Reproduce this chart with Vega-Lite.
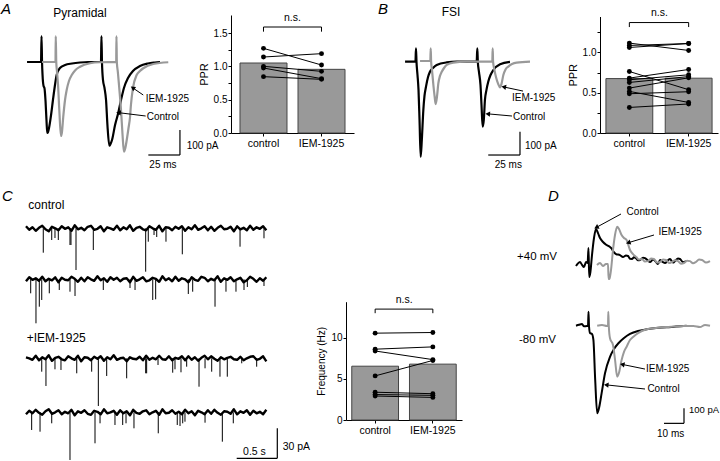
{
"$schema": "https://vega.github.io/schema/vega-lite/v6.json",
"padding": 0,
"spacing": 0,
"config": {
 "view": {"stroke": null},
 "font": "Liberation Sans",
 "axis": {"domainColor":"#000000","tickColor":"#000000","labelColor":"#000000","titleColor":"#000000","labelFontSize":10,"titleFontSize":11,"titleFontWeight":"normal","tickSize":3,"labelPadding":1,"titlePadding":4,"grid":false},
 "axisX": {"labelAngle":0,"labelFontSize":10.5,"labelPadding":2,"tickSize":3},
 "text": {"color":"#000000"}
},
"datasets": {
 "aT": [
  {"c":"k","t":21.3,"i":0},{"c":"k","t":32.3,"i":0},{"c":"k","t":32.7,"i":104},{"c":"k","t":33.1,"i":0},{"c":"k","t":33.5,"i":-52},{"c":"k","t":34.3,"i":-96},{"c":"k","t":35.0,"i":-104},{"c":"k","t":35.8,"i":-152},{"c":"k","t":36.6,"i":-232},{"c":"k","t":37.2,"i":-284},{"c":"k","t":37.8,"i":-280},{"c":"k","t":38.6,"i":-264},{"c":"k","t":40.2,"i":-212},{"c":"k","t":41.7,"i":-152},{"c":"k","t":43.3,"i":-92},{"c":"k","t":44.6,"i":-52},{"c":"k","t":47.2,"i":-24},{"c":"k","t":51.2,"i":-12},{"c":"k","t":56.7,"i":-6},{"c":"k","t":63.0,"i":-2},{"c":"k","t":69.3,"i":0},{"c":"k","t":79.5,"i":0},{"c":"k","t":79.9,"i":104},{"c":"k","t":80.3,"i":0},{"c":"k","t":81.1,"i":-72},{"c":"k","t":82.3,"i":-104},{"c":"k","t":83.5,"i":-152},{"c":"k","t":84.6,"i":-252},{"c":"k","t":86.1,"i":-335},{"c":"k","t":87.0,"i":-328},{"c":"k","t":88.2,"i":-312},{"c":"k","t":90.6,"i":-252},{"c":"k","t":93.1,"i":-204},{"c":"k","t":95.3,"i":-152},{"c":"k","t":97.6,"i":-104},{"c":"k","t":100.8,"i":-64},{"c":"k","t":104.7,"i":-36},{"c":"k","t":110.2,"i":-16},{"c":"k","t":116.5,"i":-6},{"c":"k","t":122,"i":-2},{"c":"k","t":126,"i":0},
  {"c":"g","t":33.1,"i":0},{"c":"g","t":43.7,"i":0},{"c":"g","t":43.9,"i":104},{"c":"g","t":44.3,"i":0},{"c":"g","t":44.9,"i":-40},{"c":"g","t":45.7,"i":-92},{"c":"g","t":46.7,"i":-192},{"c":"g","t":48.0,"i":-296},{"c":"g","t":48.8,"i":-280},{"c":"g","t":49.8,"i":-220},{"c":"g","t":51.2,"i":-152},{"c":"g","t":52.5,"i":-112},{"c":"g","t":54.3,"i":-76},{"c":"g","t":56.5,"i":-52},{"c":"g","t":59.1,"i":-34},{"c":"g","t":63.0,"i":-19},{"c":"g","t":70.9,"i":-5},{"c":"g","t":78.7,"i":-1},{"c":"g","t":91.5,"i":0},{"c":"g","t":91.7,"i":104},{"c":"g","t":92.0,"i":0},{"c":"g","t":92.8,"i":-40},{"c":"g","t":93.7,"i":-92},{"c":"g","t":95.3,"i":-192},{"c":"g","t":96.5,"i":-292},{"c":"g","t":97.6,"i":-359},{"c":"g","t":98.7,"i":-344},{"c":"g","t":99.8,"i":-312},{"c":"g","t":101.2,"i":-264},{"c":"g","t":102.4,"i":-220},{"c":"g","t":103.1,"i":-172},{"c":"g","t":104.7,"i":-104},{"c":"g","t":107.6,"i":-52},{"c":"g","t":110.2,"i":-36},{"c":"g","t":112.8,"i":-25},{"c":"g","t":120.7,"i":-8},{"c":"g","t":132.5,"i":-1}
 ],
 "aA": [{"t":112.8,"i":-132,"t2":105,"i2":-105,"ang":304},{"t":114.7,"i":-216,"t2":93.9,"i2":-203,"ang":277}],
 "aS": [{"t":116.8,"i":-372,"t2":141.7,"i2":-372},{"t":141.7,"i":-272,"t2":141.7,"i2":-372}],
 "aX": [{"k":"l","t":114.7,"i":-149,"label":"IEM-1925"},{"k":"l","t":115.5,"i":-221,"label":"Control"},{"k":"l","t":147,"i":-335,"label":"100 pA"},{"k":"c","t":128.3,"i":-412,"label":"25 ms"},{"k":"h","t":42,"i":195,"label":"Pyramidal"},{"k":"p","t":0.8,"i":212,"label":"A"}],
 "bT": [
  {"c":"k","t":40.2,"i":0},{"c":"k","t":48.4,"i":0},{"c":"k","t":48.8,"i":57},{"c":"k","t":49.2,"i":0},{"c":"k","t":50.0,"i":-57},{"c":"k","t":50.8,"i":-121},{"c":"k","t":51.6,"i":-250},{"c":"k","t":52.5,"i":-408},{"c":"k","t":53.4,"i":-336},{"c":"k","t":54.6,"i":-207},{"c":"k","t":55.5,"i":-147},{"c":"k","t":56.7,"i":-107},{"c":"k","t":58.3,"i":-66},{"c":"k","t":59.8,"i":-43},{"c":"k","t":62.2,"i":-27},{"c":"k","t":65.1,"i":-14},{"c":"k","t":73.0,"i":-3},{"c":"k","t":80.9,"i":0},{"c":"k","t":96.6,"i":0},{"c":"k","t":97.1,"i":57},{"c":"k","t":97.5,"i":0},{"c":"k","t":98.4,"i":-44},{"c":"k","t":99.6,"i":-100},{"c":"k","t":100.4,"i":-186},{"c":"k","t":101.3,"i":-279},{"c":"k","t":102.2,"i":-250},{"c":"k","t":103.1,"i":-164},{"c":"k","t":104.3,"i":-121},{"c":"k","t":105.7,"i":-86},{"c":"k","t":107.5,"i":-57},{"c":"k","t":109.7,"i":-36},{"c":"k","t":115,"i":-11},{"c":"k","t":122.8,"i":-1},
  {"c":"g","t":52.0,"i":3},{"c":"g","t":60.1,"i":3},{"c":"g","t":60.4,"i":57},{"c":"g","t":60.7,"i":3},{"c":"g","t":61.5,"i":-40},{"c":"g","t":62.5,"i":-100},{"c":"g","t":63.5,"i":-150},{"c":"g","t":64.3,"i":-182},{"c":"g","t":65.4,"i":-147},{"c":"g","t":66.4,"i":-93},{"c":"g","t":67.7,"i":-61},{"c":"g","t":69.1,"i":-43},{"c":"g","t":70.9,"i":-27},{"c":"g","t":73.0,"i":-14},{"c":"g","t":78.2,"i":-4},{"c":"g","t":88.7,"i":0},{"c":"g","t":108.9,"i":1},{"c":"g","t":109.2,"i":57},{"c":"g","t":109.5,"i":1},{"c":"g","t":110.6,"i":-36},{"c":"g","t":112,"i":-70},{"c":"g","t":113.5,"i":-95},{"c":"g","t":115,"i":-110},{"c":"g","t":116.1,"i":-96},{"c":"g","t":117.6,"i":-57},{"c":"g","t":119.3,"i":-33},{"c":"g","t":121.5,"i":-21},{"c":"g","t":124.4,"i":-10},{"c":"g","t":128.1,"i":-4},{"c":"g","t":138.6,"i":0}
 ],
 "bA": [{"t":133.1,"i":-126,"t2":118.5,"i2":-109,"ang":282},{"t":124.4,"i":-233,"t2":105.9,"i2":-224,"ang":275}],
 "bS": [{"t":105.7,"i":-400.3,"t2":130.7,"i2":-400.3},{"t":130.7,"i":-300.3,"t2":130.7,"i2":-400.3}],
 "bX": [{"k":"l","t":124.4,"i":-156,"label":"IEM-1925"},{"k":"l","t":125.2,"i":-238,"label":"Control"},{"k":"l","t":134.6,"i":-360,"label":"100 pA"},{"k":"c","t":121.5,"i":-443,"label":"25 ms"},{"k":"h","t":69,"i":213,"label":"FSI"},{"k":"p","t":18.9,"i":224,"label":"B"}],
 "cN": [
  {"t":320,"a":2,"b":-53,"c":-129,"d":-186},{"t":360,"a":-1.5,"b":-49,"c":-130,"d":-182.5},{"t":400,"a":1,"b":-51.5,"c":-131.5,"d":-185},{"t":440,"a":-2.5,"b":-50,"c":-127.5,"d":-181.5},{"t":480,"a":0.5,"b":-52.5,"c":-132,"d":-184.5},{"t":520,"a":2.5,"b":-48.5,"c":-129,"d":-186.5},{"t":560,"a":-1,"b":-53,"c":-131,"d":-183},{"t":600,"a":-3,"b":-50.5,"c":-127,"d":-181},{"t":640,"a":1.5,"b":-52,"c":-132.5,"d":-185.5},{"t":680,"a":0,"b":-49,"c":-129.5,"d":-184},
  {"t":720,"a":-2,"b":-54,"c":-128.5,"d":-182},{"t":760,"a":2,"b":-49.5,"c":-131,"d":-186},{"t":800,"a":-0.5,"b":-51.5,"c":-132,"d":-183.5},{"t":840,"a":1,"b":-52,"c":-128,"d":-185},{"t":880,"a":-2.5,"b":-48.5,"c":-130,"d":-181.5},{"t":920,"a":3,"b":-50.5,"c":-131.5,"d":-187},{"t":960,"a":-1,"b":-53.5,"c":-127.5,"d":-183},{"t":1000,"a":0.5,"b":-49.5,"c":-133,"d":-184.5},{"t":1040,"a":-2,"b":-53,"c":-129,"d":-182},{"t":1080,"a":1.5,"b":-49,"c":-129.5,"d":-185.5},
  {"t":1120,"a":2.5,"b":-51,"c":-132,"d":-186.5},{"t":1160,"a":-1.5,"b":-52.5,"c":-128.5,"d":-182.5},{"t":1200,"a":-0.5,"b":-48,"c":-130.5,"d":-183.5},{"t":1240,"a":2,"b":-52,"c":-128,"d":-186},{"t":1280,"a":-3,"b":-50,"c":-132.5,"d":-181},{"t":1320,"a":1,"b":-53.5,"c":-129,"d":-185},{"t":1360,"a":0,"b":-49,"c":-131,"d":-184},{"t":1400,"a":-1.5,"b":-51.5,"c":-127,"d":-182.5},{"t":1440,"a":2.5,"b":-49.5,"c":-131.5,"d":-186.5},{"t":1480,"a":-2,"b":-53,"c":-130,"d":-182},
  {"t":1520,"a":1,"b":-50.5,"c":-129.5,"d":-185},{"t":1560,"a":-1,"b":-50,"c":-133,"d":-183},{"t":1600,"a":3,"b":-54,"c":-129,"d":-187},{"t":1640,"a":-2.5,"b":-48.5,"c":-130.5,"d":-181.5},{"t":1680,"a":0.5,"b":-52.5,"c":-131,"d":-184.5},{"t":1720,"a":1.5,"b":-51,"c":-128.5,"d":-185.5},{"t":1760,"a":-1,"b":-49,"c":-132,"d":-183},{"t":1800,"a":-2,"b":-53,"c":-127.5,"d":-182},{"t":1840,"a":2,"b":-52,"c":-131.5,"d":-186},{"t":1880,"a":0,"b":-49.5,"c":-129.5,"d":-184},
  {"t":1920,"a":-1.5,"b":-50.5,"c":-131,"d":-182.5},{"t":1960,"a":2.5,"b":-53.5,"c":-127.5,"d":-186.5},{"t":2000,"a":-3,"b":-48,"c":-131,"d":-181},{"t":2040,"a":1,"b":-52,"c":-131.5,"d":-185},{"t":2080,"a":0.5,"b":-50,"c":-128,"d":-184.5},{"t":2120,"a":-2,"b":-53,"c":-132,"d":-182},{"t":2160,"a":1.5,"b":-48.5,"c":-129.5,"d":-185.5},{"t":2200,"a":-0.5,"b":-52.5,"c":-130.5,"d":-183.5},{"t":2240,"a":2,"b":-50,"c":-128,"d":-186},{"t":2280,"a":-2.5,"b":-51,"c":-132,"d":-181.5},
  {"t":2320,"a":1,"b":-54,"c":-128,"d":-185},{"t":2360,"a":-1,"b":-49,"c":-131.5,"d":-183},{"t":2400,"a":3,"b":-51.5,"c":-129,"d":-187},{"t":2440,"a":-1.5,"b":-52.5,"c":-132.5,"d":-182.5},{"t":2480,"a":0,"b":-48.5,"c":-129.5,"d":-184},{"t":2520,"a":2,"b":-49.5,"c":-127.5,"d":-186},{"t":2560,"a":-2,"b":-53,"c":-131,"d":-182},{"t":2600,"a":1.5,"b":-50.5,"c":-128,"d":-185.5},{"t":2640,"a":-2.5,"b":-52,"c":-130.5,"d":-181.5},{"t":2680,"a":0.5,"b":-48,"c":-132.5,"d":-184.5},
  {"t":2720,"a":2.5,"b":-53.5,"c":-129,"d":-186.5},{"t":2760,"a":-1,"b":-50,"c":-131,"d":-183},{"t":2800,"a":-0.5,"b":-51.5,"c":-129.5,"d":-183.5},{"t":2840,"a":1.5,"b":-49,"c":-128.5,"d":-185.5},{"t":2880,"a":-3,"b":-53,"c":-131,"d":-181},{"t":2920,"a":2,"b":-51,"c":-131.5,"d":-186},{"t":2960,"a":-1,"b":-49.5,"c":-128.5,"d":-183},{"t":3000,"a":0.5,"b":-54,"c":-132,"d":-184.5},{"t":3040,"a":-2,"b":-52,"c":-130,"d":-182},{"t":3080,"a":2.5,"b":-48.5,"c":-128.5,"d":-186.5},
  {"t":3120,"a":-1.5,"b":-50.5,"c":-128,"d":-182.5},{"t":3160,"a":1,"b":-53.5,"c":-131.5,"d":-185},{"t":3200,"a":-0.5,"b":-50,"c":-130.5,"d":-183.5},{"t":3240,"a":2,"b":-52.5,"c":-128,"d":-186},{"t":3280,"a":-2,"b":-49,"c":-133,"d":-181.5}
 ],
 "cSp": [
  {"t":533,"b":0,"p":-24.4},{"t":637,"b":0,"p":-11.7},{"t":677,"b":0,"p":-9.7},{"t":718,"b":0,"p":-11.7},{"t":862,"b":0,"p":-16.7},{"t":874,"b":0,"p":-16.7},{"t":936,"b":0,"p":-41.7},{"t":1149,"b":0,"p":-21.7},{"t":1794,"b":0,"p":-43.4},{"t":1826,"b":0,"p":-13.4},{"t":1897,"b":0,"p":-6.7},{"t":1930,"b":0,"p":-8.7},{"t":2044,"b":0,"p":-13.4},{"t":2245,"b":0,"p":-26},{"t":2956,"b":0,"p":-18.4},{"t":3251,"b":0,"p":-10},
  {"t":378,"b":-51,"p":-65},{"t":443,"b":-51,"p":-95},{"t":484,"b":-51,"p":-78.4},{"t":514,"b":-51,"p":-71.7},{"t":607,"b":-51,"p":-65},{"t":730,"b":-51,"p":-61.7},{"t":862,"b":-51,"p":-63.4},{"t":924,"b":-51,"p":-67.7},{"t":1272,"b":-51,"p":-61.7},{"t":1601,"b":-51,"p":-59.7},{"t":1663,"b":-51,"p":-61.7},{"t":1881,"b":-51,"p":-71.7},{"t":1917,"b":-51,"p":-71},{"t":2319,"b":-51,"p":-65.7},{"t":2373,"b":-51,"p":-63.4},{"t":2648,"b":-51,"p":-78.4},{"t":2783,"b":-51,"p":-63.4},{"t":2906,"b":-51,"p":-63.4},{"t":3005,"b":-51,"p":-61.7},{"t":3046,"b":-51,"p":-58.7},{"t":3251,"b":-51,"p":-57.7},
  {"t":514,"b":-130,"p":-143.4},{"t":566,"b":-130,"p":-157.7},{"t":677,"b":-130,"p":-141},{"t":751,"b":-130,"p":-141.7},{"t":945,"b":-130,"p":-145},{"t":1129,"b":-130,"p":-143.4},{"t":1211,"b":-130,"p":-177.7},{"t":1314,"b":-130,"p":-147.7},{"t":1560,"b":-130,"p":-150},{"t":1794,"b":-130,"p":-145},{"t":1806,"b":-130,"p":-145},{"t":1946,"b":-130,"p":-136.7},{"t":2127,"b":-130,"p":-144.4},{"t":2155,"b":-130,"p":-141},{"t":2229,"b":-130,"p":-144},{"t":2299,"b":-130,"p":-138.4},{"t":2451,"b":-130,"p":-158.4},{"t":2525,"b":-130,"p":-140},{"t":2607,"b":-130,"p":-143.4},{"t":2709,"b":-130,"p":-148.4},{"t":2799,"b":-130,"p":-148.4},{"t":2977,"b":-130,"p":-135},{"t":3161,"b":-130,"p":-138.4},
  {"t":390,"b":-184,"p":-201.7},{"t":493,"b":-184,"p":-203.4},{"t":637,"b":-184,"p":-195},{"t":862,"b":-184,"p":-231.7},{"t":1170,"b":-184,"p":-215},{"t":1232,"b":-184,"p":-195},{"t":1416,"b":-184,"p":-196.7},{"t":1511,"b":-184,"p":-196.7},{"t":1552,"b":-184,"p":-195},{"t":1650,"b":-184,"p":-200},{"t":1949,"b":-184,"p":-205},{"t":2183,"b":-184,"p":-196.7},{"t":2217,"b":-184,"p":-197.7},{"t":2250,"b":-184,"p":-195},{"t":2278,"b":-184,"p":-193.4},{"t":2525,"b":-184,"p":-194.4},{"t":2738,"b":-184,"p":-213.4},{"t":2873,"b":-184,"p":-195}
 ],
 "cS": [{"t":2915,"i":-230,"t2":3415,"i2":-230},{"t":3415,"i":-200,"t2":3415,"i2":-230}],
 "cX": [{"k":"h","t":349,"i":23.3,"label":"control"},{"k":"h","t":329,"i":-110,"label":"+IEM-1925"},{"k":"c","t":3134,"i":-223.7,"label":"0.5 s"},{"k":"l","t":3481,"i":-218.4,"label":"30 pA"},{"k":"p","t":25,"i":32.3,"label":"C"}],
 "dT": [
  {"c":"k","s":"u","t":57,"i":-18},{"c":"k","s":"u","t":58,"i":0},{"c":"k","s":"u","t":59,"i":9},{"c":"k","s":"u","t":60,"i":-10},{"c":"k","s":"u","t":61,"i":-25},{"c":"k","s":"u","t":62,"i":9},{"c":"k","s":"u","t":62.8,"i":2},{"c":"k","s":"u","t":63.25,"i":102},{"c":"k","s":"u","t":63.6,"i":-91},{"c":"k","s":"u","t":64.2,"i":-58},{"c":"k","s":"u","t":65,"i":55},{"c":"k","s":"u","t":66,"i":169},{"c":"k","s":"u","t":67,"i":229},{"c":"k","s":"u","t":68,"i":202},{"c":"k","s":"u","t":69,"i":169},{"c":"k","s":"u","t":70.5,"i":142},{"c":"k","s":"u","t":72.3,"i":122},{"c":"k","s":"u","t":74,"i":109},{"c":"k","s":"u","t":74.8,"i":100},{"c":"k","s":"u","t":75.5,"i":82},{"c":"k","s":"u","t":77,"i":62},{"c":"k","s":"u","t":79,"i":55},{"c":"k","s":"u","t":80.5,"i":42},{"c":"k","s":"u","t":82,"i":52},{"c":"k","s":"u","t":83,"i":49},{"c":"k","s":"u","t":84,"i":30},{"c":"k","s":"u","t":85,"i":29},{"c":"k","s":"u","t":86,"i":40},{"c":"k","s":"u","t":87,"i":35},{"c":"k","s":"u","t":88,"i":20},{"c":"k","s":"u","t":89,"i":22},{"c":"k","s":"u","t":90.5,"i":38},{"c":"k","s":"u","t":91.5,"i":35},{"c":"k","s":"u","t":93,"i":18},{"c":"k","s":"u","t":94,"i":9},{"c":"k","s":"u","t":95.5,"i":25},{"c":"k","s":"u","t":97,"i":9},{"c":"k","s":"u","t":98,"i":-5},{"c":"k","s":"u","t":99,"i":22},{"c":"k","s":"u","t":100.5,"i":8},{"c":"k","s":"u","t":101.5,"i":2},{"c":"k","s":"u","t":103,"i":20},{"c":"k","s":"u","t":104,"i":29},{"c":"k","s":"u","t":105.5,"i":5},{"c":"k","s":"u","t":106.5,"i":15},{"c":"k","s":"u","t":108,"i":32},{"c":"k","s":"u","t":109,"i":29},{"c":"k","s":"u","t":110.5,"i":8},{"c":"k","s":"u","t":112,"i":15},
  {"c":"g","s":"u","t":67.5,"i":-11},{"c":"g","s":"u","t":69,"i":2},{"c":"g","s":"u","t":70.5,"i":-18},{"c":"g","s":"u","t":72,"i":-5},{"c":"g","s":"u","t":73,"i":-5},{"c":"g","s":"u","t":73.3,"i":-105},{"c":"g","s":"u","t":73.8,"i":-100},{"c":"g","s":"u","t":74.5,"i":-45},{"c":"g","s":"u","t":75.5,"i":89},{"c":"g","s":"u","t":76.5,"i":189},{"c":"g","s":"u","t":77.6,"i":244},{"c":"g","s":"u","t":78.5,"i":229},{"c":"g","s":"u","t":79.8,"i":189},{"c":"g","s":"u","t":81,"i":169},{"c":"g","s":"u","t":82.3,"i":155},{"c":"g","s":"u","t":83,"i":129},{"c":"g","s":"u","t":84,"i":89},{"c":"g","s":"u","t":85.5,"i":62},{"c":"g","s":"u","t":87.3,"i":40},{"c":"g","s":"u","t":88.5,"i":25},{"c":"g","s":"u","t":90,"i":29},{"c":"g","s":"u","t":91.5,"i":12},{"c":"g","s":"u","t":93,"i":15},{"c":"g","s":"u","t":94.5,"i":32},{"c":"g","s":"u","t":96,"i":29},{"c":"g","s":"u","t":97.5,"i":5},{"c":"g","s":"u","t":99,"i":9},{"c":"g","s":"u","t":100.5,"i":25},{"c":"g","s":"u","t":102,"i":22},{"c":"g","s":"u","t":103.5,"i":2},{"c":"g","s":"u","t":105,"i":9},{"c":"g","s":"u","t":106.5,"i":20},{"c":"g","s":"u","t":108,"i":15},{"c":"g","s":"u","t":109.5,"i":-2},{"c":"g","s":"u","t":111,"i":2},{"c":"g","s":"u","t":112.5,"i":18},{"c":"g","s":"u","t":114,"i":15},{"c":"g","s":"u","t":115.5,"i":0},{"c":"g","s":"u","t":117,"i":9},{"c":"g","s":"u","t":118.5,"i":25},{"c":"g","s":"u","t":120,"i":22},{"c":"g","s":"u","t":122,"i":5},{"c":"g","s":"u","t":124,"i":15},
  {"c":"k","s":"d","t":57,"i":-416},{"c":"k","s":"d","t":58.5,"i":-410},{"c":"k","s":"d","t":60,"i":-405},{"c":"k","s":"d","t":61,"i":-420},{"c":"k","s":"d","t":62.5,"i":-418},{"c":"k","s":"d","t":63,"i":-418},{"c":"k","s":"d","t":63.25,"i":-323},{"c":"k","s":"d","t":63.5,"i":-418},{"c":"k","s":"d","t":64,"i":-465},{"c":"k","s":"d","t":65,"i":-471},{"c":"k","s":"d","t":65.7,"i":-511},{"c":"k","s":"d","t":66.6,"i":-778},{"c":"k","s":"d","t":67.6,"i":-1000},{"c":"k","s":"d","t":68.5,"i":-965},{"c":"k","s":"d","t":69.8,"i":-867},{"c":"k","s":"d","t":71.5,"i":-733},{"c":"k","s":"d","t":74,"i":-623},{"c":"k","s":"d","t":76,"i":-571},{"c":"k","s":"d","t":78.2,"i":-533},{"c":"k","s":"d","t":81,"i":-498},{"c":"k","s":"d","t":84,"i":-471},{"c":"k","s":"d","t":88,"i":-451},{"c":"k","s":"d","t":92.3,"i":-440},{"c":"k","s":"d","t":97,"i":-431},{"c":"k","s":"d","t":102.3,"i":-427},{"c":"k","s":"d","t":107,"i":-421},{"c":"k","s":"d","t":112.3,"i":-416},
  {"c":"g","s":"d","t":67.6,"i":-416},{"c":"g","s":"d","t":70,"i":-411},{"c":"g","s":"d","t":72.5,"i":-418},{"c":"g","s":"d","t":73,"i":-418},{"c":"g","s":"d","t":73.15,"i":-323},{"c":"g","s":"d","t":73.4,"i":-418},{"c":"g","s":"d","t":74,"i":-500},{"c":"g","s":"d","t":75.5,"i":-545},{"c":"g","s":"d","t":76.5,"i":-640},{"c":"g","s":"d","t":77.6,"i":-756},{"c":"g","s":"d","t":78.5,"i":-730},{"c":"g","s":"d","t":79.8,"i":-645},{"c":"g","s":"d","t":81,"i":-590},{"c":"g","s":"d","t":82.3,"i":-556},{"c":"g","s":"d","t":84,"i":-511},{"c":"g","s":"d","t":85.7,"i":-489},{"c":"g","s":"d","t":88,"i":-465},{"c":"g","s":"d","t":92.3,"i":-440},{"c":"g","s":"d","t":97,"i":-431},{"c":"g","s":"d","t":102,"i":-425},{"c":"g","s":"d","t":105.7,"i":-422},{"c":"g","s":"d","t":111,"i":-418},{"c":"g","s":"d","t":115.7,"i":-418},{"c":"g","s":"d","t":119,"i":-425},{"c":"g","s":"d","t":121.5,"i":-411},{"c":"g","s":"d","t":124,"i":-416}
 ],
 "dA": [{"t":79.5,"i":329,"t2":67.5,"i2":242,"ang":242},{"t":96,"i":189,"t2":83.5,"i2":139,"ang":253},{"t":91.5,"i":-705,"t2":80.5,"i2":-675,"ang":282},{"t":91.5,"i":-838,"t2":72.5,"i2":-811,"ang":276}],
 "dS": [{"t":101,"i":-1067,"t2":111,"i2":-1067},{"t":111,"i":-967,"t2":111,"i2":-1067}],
 "dX": [{"k":"l","t":82.3,"i":344,"label":"Control"},{"k":"l","t":98.2,"i":211,"label":"IEM-1925"},{"k":"l","t":92,"i":-707,"label":"IEM-1925"},{"k":"l","t":92.7,"i":-840,"label":"Control"},{"k":"s","t":113.5,"i":-978,"label":"100 pA"},{"k":"c","t":104.3,"i":-1138,"label":"10 ms"},{"k":"r","t":47.5,"i":42,"label":"+40 mV"},{"k":"r","t":47,"i":-511,"label":"-80 mV"},{"k":"p","t":43,"i":449,"label":"D"}],
 "aBar": [{"cond":"control","v":1.05},{"cond":"IEM-1925","v":0.955}],
 "aPts": [{"id":1,"cond":"control","v":1.27},{"id":1,"cond":"IEM-1925","v":1.02},{"id":2,"cond":"control","v":1.14},{"id":2,"cond":"IEM-1925","v":1.19},{"id":3,"cond":"control","v":1.0},{"id":3,"cond":"IEM-1925","v":0.925},{"id":4,"cond":"control","v":0.975},{"id":4,"cond":"IEM-1925","v":0.815},{"id":5,"cond":"control","v":0.845},{"id":5,"cond":"IEM-1925","v":0.805}],
 "aBr": [{"o":1,"cond":"control","v":1.52},{"o":2,"cond":"control","v":1.59},{"o":3,"cond":"IEM-1925","v":1.59},{"o":4,"cond":"IEM-1925","v":1.52}],
 "aNs": [{"cond":"control","v":1.72,"label":"n.s."}],
 "bBar": [{"cond":"control","v":0.675},{"cond":"IEM-1925","v":0.68}],
 "bPts": [{"id":1,"cond":"control","v":1.115},{"id":1,"cond":"IEM-1925","v":1.024},{"id":2,"cond":"control","v":1.086},{"id":2,"cond":"IEM-1925","v":1.11},{"id":3,"cond":"control","v":1.061},{"id":3,"cond":"IEM-1925","v":1.11},{"id":4,"cond":"control","v":0.763},{"id":4,"cond":"IEM-1925","v":0.537},{"id":5,"cond":"control","v":0.681},{"id":5,"cond":"IEM-1925","v":0.788},{"id":6,"cond":"control","v":0.66},{"id":6,"cond":"IEM-1925","v":0.722},{"id":7,"cond":"control","v":0.627},{"id":7,"cond":"IEM-1925","v":0.70},{"id":8,"cond":"control","v":0.557},{"id":8,"cond":"IEM-1925","v":0.685},{"id":9,"cond":"control","v":0.516},{"id":9,"cond":"IEM-1925","v":0.379},{"id":10,"cond":"control","v":0.487},{"id":10,"cond":"IEM-1925","v":0.512},{"id":11,"cond":"control","v":0.317},{"id":11,"cond":"IEM-1925","v":0.36}],
 "bBr": [{"o":1,"cond":"control","v":1.314},{"o":2,"cond":"control","v":1.37},{"o":3,"cond":"IEM-1925","v":1.37},{"o":4,"cond":"IEM-1925","v":1.314}],
 "bNs": [{"cond":"control","v":1.49,"label":"n.s."}],
 "cBar": [{"cond":"control","v":6.55},{"cond":"IEM-1925","v":6.8}],
 "cPts": [{"id":1,"cond":"control","v":10.57},{"id":1,"cond":"IEM-1925","v":10.65},{"id":2,"cond":"control","v":8.62},{"id":2,"cond":"IEM-1925","v":8.9},{"id":3,"cond":"control","v":8.4},{"id":3,"cond":"IEM-1925","v":7.35},{"id":4,"cond":"control","v":5.37},{"id":4,"cond":"IEM-1925","v":7.25},{"id":5,"cond":"control","v":3.38},{"id":5,"cond":"IEM-1925","v":3.2},{"id":6,"cond":"control","v":3.1},{"id":6,"cond":"IEM-1925","v":3.0},{"id":7,"cond":"control","v":2.92},{"id":7,"cond":"IEM-1925","v":2.75}],
 "cBr": [{"o":1,"cond":"control","v":13.0},{"o":2,"cond":"control","v":13.5},{"o":3,"cond":"IEM-1925","v":13.5},{"o":4,"cond":"IEM-1925","v":13.0}],
 "cNs": [{"cond":"control","v":14.6,"label":"n.s."}]
},
"vconcat": [
 {"bounds":"flush","spacing":0,"hconcat":[
  {"width":231,"height":187,
   "encoding":{"x":{"field":"t","type":"quantitative","scale":{"domain":[0,181.9],"nice":false,"zero":false},"axis":null},
               "y":{"field":"i","type":"quantitative","scale":{"domain":[-500,248],"nice":false,"zero":false},"axis":null}},
   "layer":[
    {"data":{"name":"aT"},"transform":[{"filter":"datum.c==='k'"}],"mark":{"type":"line","color":"#000000","strokeWidth":2.2,"interpolate":"monotone","strokeJoin":"round"}},
    {"data":{"name":"aT"},"transform":[{"filter":"datum.c==='g'"}],"mark":{"type":"line","color":"#999999","strokeWidth":2.2,"interpolate":"monotone","strokeJoin":"round"}},
    {"data":{"name":"aA"},"mark":{"type":"rule","color":"#000000","strokeWidth":1},"encoding":{"x2":{"field":"t2"},"y2":{"field":"i2"}}},
    {"data":{"name":"aA"},"mark":{"type":"point","shape":"triangle","filled":true,"color":"#000000","size":28,"opacity":1},"encoding":{"x":{"field":"t2","type":"quantitative"},"y":{"field":"i2","type":"quantitative"},"angle":{"field":"ang","type":"quantitative","scale":null}}},
    {"data":{"name":"aS"},"mark":{"type":"rule","color":"#000000","strokeWidth":1.2},"encoding":{"x2":{"field":"t2"},"y2":{"field":"i2"}}},
    {"data":{"name":"aX"},"transform":[{"filter":"datum.k==='l'"}],"mark":{"type":"text","align":"left","baseline":"middle","fontSize":10},"encoding":{"text":{"field":"label","type":"nominal"}}},
    {"data":{"name":"aX"},"transform":[{"filter":"datum.k==='c'"}],"mark":{"type":"text","align":"center","baseline":"middle","fontSize":10},"encoding":{"text":{"field":"label","type":"nominal"}}},
    {"data":{"name":"aX"},"transform":[{"filter":"datum.k==='h'"}],"mark":{"type":"text","align":"left","baseline":"middle","fontSize":12},"encoding":{"text":{"field":"label","type":"nominal"}}},
    {"data":{"name":"aX"},"transform":[{"filter":"datum.k==='p'"}],"mark":{"type":"text","align":"left","baseline":"middle","fontSize":15,"fontStyle":"italic"},"encoding":{"text":{"field":"label","type":"nominal"}}}
   ]},
  {"width":123,"height":133,
   "encoding":{"x":{"field":"cond","type":"nominal","sort":["control","IEM-1925"],"scale":{"paddingInner":0.19,"paddingOuter":0.155},"axis":{"title":null}},
               "y":{"field":"v","type":"quantitative","scale":{"domain":[0,1.77],"range":[133,15],"nice":false},"axis":{"title":"PPR","values":[0,0.25,0.5,0.75,1,1.25,1.5],"labelExpr":"datum.value % 0.5 === 0 ? format(datum.value, '.1f') : ''"}}},
   "layer":[
    {"data":{"name":"aBar"},"mark":{"type":"bar","fill":"#999999","stroke":"#444444","strokeWidth":1}},
    {"data":{"name":"aPts"},"mark":{"type":"line","color":"#000000","strokeWidth":1},"encoding":{"detail":{"field":"id","type":"nominal"}}},
    {"data":{"name":"aPts"},"mark":{"type":"point","filled":true,"color":"#000000","size":24,"opacity":1}},
    {"data":{"name":"aBr"},"mark":{"type":"line","color":"#000000","strokeWidth":1},"encoding":{"order":{"field":"o","type":"quantitative"}}},
    {"data":{"name":"aNs"},"mark":{"type":"text","dx":29,"baseline":"middle","fontSize":10.5},"encoding":{"text":{"field":"label","type":"nominal"}}}
   ]},
  {"width":246,"height":187,
   "encoding":{"x":{"field":"t","type":"quantitative","scale":{"domain":[0,193.7],"nice":false,"zero":false},"axis":null},
               "y":{"field":"i","type":"quantitative","scale":{"domain":[-537.5,264.7],"nice":false,"zero":false},"axis":null}},
   "layer":[
    {"data":{"name":"bT"},"transform":[{"filter":"datum.c==='k'"}],"mark":{"type":"line","color":"#000000","strokeWidth":2.2,"interpolate":"monotone","strokeJoin":"round"}},
    {"data":{"name":"bT"},"transform":[{"filter":"datum.c==='g'"}],"mark":{"type":"line","color":"#999999","strokeWidth":2.2,"interpolate":"monotone","strokeJoin":"round"}},
    {"data":{"name":"bA"},"mark":{"type":"rule","color":"#000000","strokeWidth":1},"encoding":{"x2":{"field":"t2"},"y2":{"field":"i2"}}},
    {"data":{"name":"bA"},"mark":{"type":"point","shape":"triangle","filled":true,"color":"#000000","size":28,"opacity":1},"encoding":{"x":{"field":"t2","type":"quantitative"},"y":{"field":"i2","type":"quantitative"},"angle":{"field":"ang","type":"quantitative","scale":null}}},
    {"data":{"name":"bS"},"mark":{"type":"rule","color":"#000000","strokeWidth":1.2},"encoding":{"x2":{"field":"t2"},"y2":{"field":"i2"}}},
    {"data":{"name":"bX"},"transform":[{"filter":"datum.k==='l'"}],"mark":{"type":"text","align":"left","baseline":"middle","fontSize":10},"encoding":{"text":{"field":"label","type":"nominal"}}},
    {"data":{"name":"bX"},"transform":[{"filter":"datum.k==='c'"}],"mark":{"type":"text","align":"center","baseline":"middle","fontSize":10},"encoding":{"text":{"field":"label","type":"nominal"}}},
    {"data":{"name":"bX"},"transform":[{"filter":"datum.k==='h'"}],"mark":{"type":"text","align":"left","baseline":"middle","fontSize":12},"encoding":{"text":{"field":"label","type":"nominal"}}},
    {"data":{"name":"bX"},"transform":[{"filter":"datum.k==='p'"}],"mark":{"type":"text","align":"left","baseline":"middle","fontSize":15,"fontStyle":"italic"},"encoding":{"text":{"field":"label","type":"nominal"}}}
   ]},
  {"width":118,"height":133,
   "encoding":{"x":{"field":"cond","type":"nominal","sort":["control","IEM-1925"],"scale":{"paddingInner":0.21,"paddingOuter":0.1},"axis":{"title":null}},
               "y":{"field":"v","type":"quantitative","scale":{"domain":[0,1.445],"range":[133,16.5],"nice":false},"axis":{"title":"PPR","values":[0,0.25,0.5,0.75,1,1.25],"labelExpr":"datum.value % 0.5 === 0 ? format(datum.value, '.1f') : ''"}}},
   "layer":[
    {"data":{"name":"bBar"},"mark":{"type":"bar","fill":"#999999","stroke":"#444444","strokeWidth":1}},
    {"data":{"name":"bPts"},"mark":{"type":"line","color":"#000000","strokeWidth":1},"encoding":{"detail":{"field":"id","type":"nominal"}}},
    {"data":{"name":"bPts"},"mark":{"type":"point","filled":true,"color":"#000000","size":24,"opacity":1}},
    {"data":{"name":"bBr"},"mark":{"type":"line","color":"#000000","strokeWidth":1},"encoding":{"order":{"field":"o","type":"quantitative"}}},
    {"data":{"name":"bNs"},"mark":{"type":"text","dx":30,"baseline":"middle","fontSize":10.5},"encoding":{"text":{"field":"label","type":"nominal"}}}
   ]}
 ]},
 {"bounds":"flush","spacing":0,"hconcat":[
  {"width":346,"height":274,
   "encoding":{"x":{"field":"t","type":"quantitative","scale":{"domain":[0,4261],"nice":false,"zero":false},"axis":null},
               "y":{"field":"i","type":"quantitative","scale":{"domain":[-232.7,41.3],"nice":false,"zero":false},"axis":null}},
   "layer":[
    {"data":{"name":"cN"},"transform":[{"fold":["a","b","c","d"],"as":["s","i"]}],"mark":{"type":"line","color":"#000000","strokeWidth":2.4,"strokeJoin":"round"},"encoding":{"detail":{"field":"s","type":"nominal"}}},
    {"data":{"name":"cSp"},"mark":{"type":"rule","color":"#000000","strokeWidth":1},"encoding":{"y":{"field":"b","type":"quantitative"},"y2":{"field":"p"}}},
    {"data":{"name":"cS"},"mark":{"type":"rule","color":"#000000","strokeWidth":1.2},"encoding":{"x2":{"field":"t2"},"y2":{"field":"i2"}}},
    {"data":{"name":"cX"},"transform":[{"filter":"datum.k==='l'"}],"mark":{"type":"text","align":"left","baseline":"middle","fontSize":10.5},"encoding":{"text":{"field":"label","type":"nominal"}}},
    {"data":{"name":"cX"},"transform":[{"filter":"datum.k==='c'"}],"mark":{"type":"text","align":"center","baseline":"middle","fontSize":10.5},"encoding":{"text":{"field":"label","type":"nominal"}}},
    {"data":{"name":"cX"},"transform":[{"filter":"datum.k==='h'"}],"mark":{"type":"text","align":"left","baseline":"middle","fontSize":12},"encoding":{"text":{"field":"label","type":"nominal"}}},
    {"data":{"name":"cX"},"transform":[{"filter":"datum.k==='p'"}],"mark":{"type":"text","align":"left","baseline":"middle","fontSize":15,"fontStyle":"italic"},"encoding":{"text":{"field":"label","type":"nominal"}}}
   ]},
  {"width":116,"height":233,
   "encoding":{"x":{"field":"cond","type":"nominal","sort":["control","IEM-1925"],"scale":{"paddingInner":0.19,"paddingOuter":0.1},"axis":{"title":null}},
               "y":{"field":"v","type":"quantitative","scale":{"domain":[0,14.4],"range":[233,114.7],"nice":false},"axis":{"title":"Frequency (Hz)","titleFontSize":10,"values":[0,5,10]}}},
   "layer":[
    {"data":{"name":"cBar"},"mark":{"type":"bar","fill":"#999999","stroke":"#444444","strokeWidth":1}},
    {"data":{"name":"cPts"},"mark":{"type":"line","color":"#000000","strokeWidth":1},"encoding":{"detail":{"field":"id","type":"nominal"}}},
    {"data":{"name":"cPts"},"mark":{"type":"point","filled":true,"color":"#000000","size":24,"opacity":1}},
    {"data":{"name":"cBr"},"mark":{"type":"line","color":"#000000","strokeWidth":1},"encoding":{"order":{"field":"o","type":"quantitative"}}},
    {"data":{"name":"cNs"},"mark":{"type":"text","dx":29,"baseline":"middle","fontSize":10.5},"encoding":{"text":{"field":"label","type":"nominal"}}}
   ]},
  {"width":258,"height":274,
   "encoding":{"x":{"field":"t","type":"quantitative","scale":{"domain":[0,129],"nice":false,"zero":false},"axis":null},
               "y":{"field":"i","type":"quantitative","scale":{"domain":[-1318,509],"nice":false,"zero":false},"axis":null}},
   "layer":[
    {"data":{"name":"dT"},"transform":[{"filter":"datum.c==='k'"}],"mark":{"type":"line","color":"#000000","strokeWidth":2,"interpolate":"monotone","strokeJoin":"round"},"encoding":{"detail":{"field":"s","type":"nominal"}}},
    {"data":{"name":"dT"},"transform":[{"filter":"datum.c==='g'"}],"mark":{"type":"line","color":"#999999","strokeWidth":2,"interpolate":"monotone","strokeJoin":"round"},"encoding":{"detail":{"field":"s","type":"nominal"}}},
    {"data":{"name":"dA"},"mark":{"type":"rule","color":"#000000","strokeWidth":1},"encoding":{"x2":{"field":"t2"},"y2":{"field":"i2"}}},
    {"data":{"name":"dA"},"mark":{"type":"point","shape":"triangle","filled":true,"color":"#000000","size":28,"opacity":1},"encoding":{"x":{"field":"t2","type":"quantitative"},"y":{"field":"i2","type":"quantitative"},"angle":{"field":"ang","type":"quantitative","scale":null}}},
    {"data":{"name":"dS"},"mark":{"type":"rule","color":"#000000","strokeWidth":1.2},"encoding":{"x2":{"field":"t2"},"y2":{"field":"i2"}}},
    {"data":{"name":"dX"},"transform":[{"filter":"datum.k==='l'"}],"mark":{"type":"text","align":"left","baseline":"middle","fontSize":10},"encoding":{"text":{"field":"label","type":"nominal"}}},
    {"data":{"name":"dX"},"transform":[{"filter":"datum.k==='s'"}],"mark":{"type":"text","align":"left","baseline":"middle","fontSize":9.5},"encoding":{"text":{"field":"label","type":"nominal"}}},
    {"data":{"name":"dX"},"transform":[{"filter":"datum.k==='c'"}],"mark":{"type":"text","align":"center","baseline":"middle","fontSize":10},"encoding":{"text":{"field":"label","type":"nominal"}}},
    {"data":{"name":"dX"},"transform":[{"filter":"datum.k==='r'"}],"mark":{"type":"text","align":"right","baseline":"middle","fontSize":11.5},"encoding":{"text":{"field":"label","type":"nominal"}}},
    {"data":{"name":"dX"},"transform":[{"filter":"datum.k==='p'"}],"mark":{"type":"text","align":"left","baseline":"middle","fontSize":15,"fontStyle":"italic"},"encoding":{"text":{"field":"label","type":"nominal"}}}
   ]}
 ]}
]
}
